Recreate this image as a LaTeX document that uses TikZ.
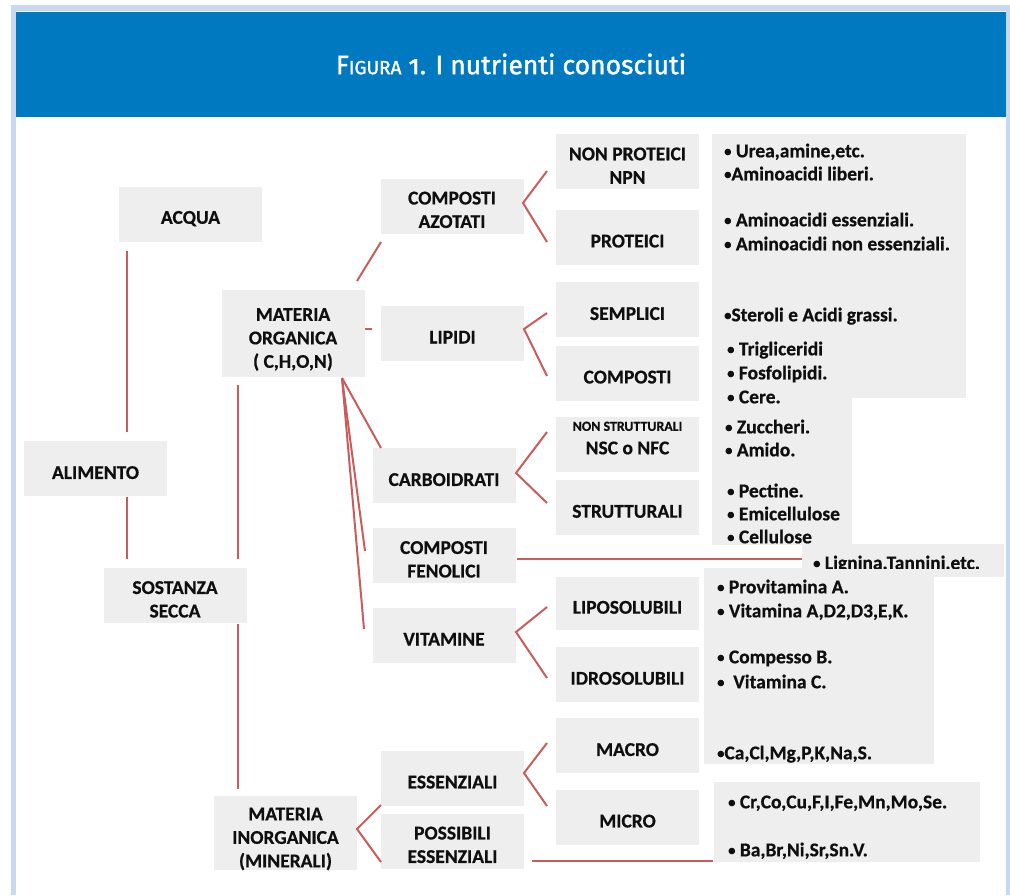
\documentclass[tikz,border=0pt]{standalone}
\usepackage{fontspec}
\setmainfont{Carlito}[BoldFeatures={FakeBold=0.6}]
\newfontfamily\titlefont{Fira Sans}[FakeBold=1.4,Numbers=OldStyle]
\definecolor{linecol}{RGB}{203,92,92}
\definecolor{boxgray}{RGB}{238,238,238}
\definecolor{hblue}{RGB}{0,121,193}
\definecolor{lblue}{RGB}{198,217,241}
\definecolor{txt}{RGB}{15,15,15}
\newcommand\lblfont{\fontsize{19.5}{23.5}\selectfont\bfseries}
\newcommand\smallfont{\fontsize{13.9}{15}\selectfont\bfseries}
\newcommand\up[1]{\rule{0pt}{#1pt}}
\newcommand\bul{\raisebox{1.2pt}{\scalebox{0.75}{•}}}
\begin{document}
\begin{tikzpicture}[x=1pt,y=-1pt,
  box/.style={fill=boxgray, inner sep=0pt, align=center, font=\lblfont, text=txt, minimum width=143pt, minimum height=55pt},
  tbox/.style={fill=boxgray, inner sep=0pt, anchor=north west},
  item/.style={anchor=west, inner sep=0pt, font=\lblfont, text=txt, text height=12.6pt, text depth=0pt},
  link/.style={draw=linecol, line width=2pt}]
\useasboundingbox (0,0) rectangle (1010,895);
% frame
\fill[white] (0,0) rectangle (1010,895);
\fill[lblue] (11,5) rectangle (1010,895);
\fill[white] (16,11) rectangle (1006,895);
\fill[hblue] (16,12) rectangle (1006,117);
\node[text=white, font=\titlefont, inner sep=0pt] (title) at (511,64)
  {{\fontsize{26.5}{26}\selectfont F}{\fontsize{19}{26}\selectfont IGURA}\fontsize{26.5}{26}\selectfont\ 1. I nutrienti conosciuti};

% text boxes on the right
\node[tbox, minimum width=254pt, minimum height=264pt] (t1) at (712,134) {};
\node[tbox, minimum width=140pt, minimum height=147pt] (t2) at (712,398) {};
\node[tbox, minimum width=202pt, minimum height=33pt] (t3) at (802,544) {};
\node[tbox, minimum width=230pt, minimum height=196pt] (t4) at (704,568) {};
\node[tbox, minimum width=266pt, minimum height=80pt] (t5) at (714,782) {};

\node[item] (i1) at (724,151) {\bul\ Urea,amine,etc.};
\node[item] (i2) at (724,174) {\bul Aminoacidi liberi.};
\node[item] (i3) at (724,220) {\bul\ Aminoacidi essenziali.};
\node[item] (i4) at (724,244) {\bul\ Aminoacidi non essenziali.};
\node[item] (i5) at (724,315) {\bul Steroli e Acidi grassi.};
\node[item] (i6) at (727,349) {\bul\ Trigliceridi};
\node[item] (i7) at (727,373) {\bul\ Fosfolipidi.};
\node[item] (i8) at (727,397) {\bul\ Cere.};
\node[item] (i9) at (725,427) {\bul\ Zuccheri.};
\node[item] (i10) at (725,450) {\bul\ Amido.};
\node[item] (i11) at (727,491) {\bul\ Pectine.};
\node[item] (i12) at (727,514) {\bul\ Emicellulose};
\node[item] (i13) at (727,537) {\bul\ Cellulose};
\begin{scope}
  \clip (795,540) rectangle (1010,568);
  \node[item] (i14) at (813,563) {\bul\ Lignina,Tannini,etc.};
\end{scope}
\node[item] (i15) at (717,587) {\bul\ Provitamina A.};
\node[item] (i16) at (717,611) {\bul\ Vitamina A,D2,D3,E,K.};
\node[item] (i17) at (717,657) {\bul\ Compesso B.};
\node[item] (i18) at (717,682) {\bul\ \ Vitamina C.};
\node[item] (i19) at (717,753) {\bul Ca,Cl,Mg,P,K,Na,S.};
\node[item] (i20) at (728,802) {\bul\ Cr,Co,Cu,F,I,Fe,Mn,Mo,Se.};
\node[item] (i21) at (728,850) {\bul\ Ba,Br,Ni,Sr,Sn.V.};

% main boxes
\node[box] (acqua) at (190.5,214.5) {\up{21}ACQUA};
\node[box] (alimento) at (95.5,468.5) {\up{21}ALIMENTO};
\node[box] (sostanza) at (175,595.5) {\up{20.5}SOSTANZA\\SECCA};
\node[box, minimum height=87pt] (mo) at (293,333.5) {\up{24.6}MATERIA\\ORGANICA\\( C,H,O,N)};
\node[box, minimum height=72pt] (mi) at (285.5,833) {\up{24.6}MATERIA\\INORGANICA\\(MINERALI)};
\node[box] (ca) at (452,206) {\up{20.5}COMPOSTI\\AZOTATI};
\node[box] (lipidi) at (452.5,333) {\up{21}LIPIDI};
\node[box] (carbo) at (444,475.5) {\up{21}CARBOIDRATI};
\node[box] (cf) at (444,555.5) {\up{20.5}COMPOSTI\\FENOLICI};
\node[box] (vit) at (444,635) {\up{21}VITAMINE};
\node[box] (ess) at (452.5,778) {\up{21}ESSENZIALI};
\node[box] (poss) at (452.5,841) {\up{20.5}POSSIBILI\\ESSENZIALI};
\node[box] (npn) at (627.5,161.5) {\up{21}NON PROTEICI\\NPN};
\node[box] (prot) at (627.5,237.5) {\up{20}PROTEICI};
\node[box] (sempl) at (627.5,309.5) {\up{21}SEMPLICI};
\node[box] (comp) at (627.5,373.5) {\up{20}COMPOSTI};
\node[box] (nsc) at (627.5,444.5) {{\smallfont NON STRUTTURALI}\\[0pt]NSC o NFC\rule[-13pt]{0pt}{13pt}};
\node[box] (strut) at (627.5,507.5) {\up{20.5}STRUTTURALI};
\node[box, minimum height=53pt] (lipo) at (627.5,603.5) {\up{20.5}LIPOSOLUBILI};
\node[box] (idro) at (627.5,674.5) {\up{20.5}IDROSOLUBILI};
\node[box] (macro) at (627.5,745.5) {\up{21}MACRO};
\node[box] (micro) at (627.5,817.5) {\up{20}MICRO};

% connector end points
\coordinate (aq1) at (126.5,251);
\coordinate (aq2) at (126.5,432);
\coordinate (al1) at (126.5,497);
\coordinate (al2) at (126.5,559);
\coordinate (mos1) at (238,385);
\coordinate (mos2) at (238,559);
\coordinate (smi1) at (238,624);
\coordinate (smi2) at (238,789);
\coordinate (moca1) at (357,281);
\coordinate (moca2) at (381,242);
\coordinate (moli1) at (365,329);
\coordinate (moli2) at (372,329);
\coordinate (mob) at (342,378);
\coordinate (mocb) at (381,448);
\coordinate (mocf) at (365,551);
\coordinate (movi) at (364,629);
\coordinate (caA) at (523,203);
\coordinate (caU) at (547,171);
\coordinate (caD) at (547,242);
\coordinate (liA) at (524,329);
\coordinate (liU) at (547,313);
\coordinate (liD) at (547,376);
\coordinate (cbA) at (516,473);
\coordinate (cbU) at (547,432);
\coordinate (cbD) at (547,503);
\coordinate (cf1) at (517,559);
\coordinate (cf2) at (802,559);
\coordinate (viA) at (516,632);
\coordinate (viU) at (547,607);
\coordinate (viD) at (547,678);
\coordinate (miA) at (357,829);
\coordinate (miU) at (381,805);
\coordinate (miD) at (381,862);
\coordinate (esA) at (524,773);
\coordinate (esU) at (547,743);
\coordinate (esD) at (547,806);
\coordinate (po1) at (532,861);
\coordinate (po2) at (713,861);

\draw[link] (aq1) -- (aq2);
\draw[link] (al1) -- (al2);
\draw[link] (mos1) -- (mos2);
\draw[link] (smi1) -- (smi2);
\draw[link] (moca1) -- (moca2);
\draw[link] (moli1) -- (moli2);
\draw[link] (mob) -- (mocb);
\draw[link] (mob) -- (mocf);
\draw[link] (mob) -- (movi);
\draw[link] (caU) -- (caA) -- (caD);
\draw[link] (liU) -- (liA) -- (liD);
\draw[link] (cbU) -- (cbA) -- (cbD);
\draw[link] (cf1) -- (cf2);
\draw[link] (viU) -- (viA) -- (viD);
\draw[link] (miU) -- (miA) -- (miD);
\draw[link] (esU) -- (esA) -- (esD);
\draw[link] (po1) -- (po2);
\end{tikzpicture}
\end{document}
